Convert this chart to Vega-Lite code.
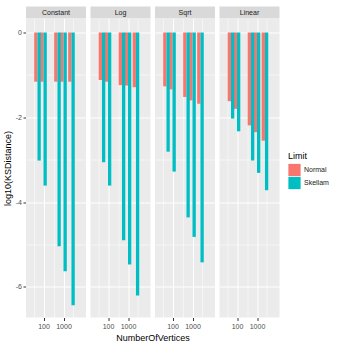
{
  "$schema": "https://vega.github.io/schema/vega-lite/v6.json",
  "padding": {"left": 3, "top": 6.5, "right": 0, "bottom": 0},
  "spacing": 0,
  "datasets": {
    "strips": [
      {"Panel": "Constant"}, {"Panel": "Log"}, {"Panel": "Sqrt"}, {"Panel": "Linear"}
    ],
    "ks": [
      {"Panel": "Constant", "N": 50, "Limit": "Normal", "value": -1.16},
      {"Panel": "Constant", "N": 100, "Limit": "Normal", "value": -1.16},
      {"Panel": "Constant", "N": 500, "Limit": "Normal", "value": -1.16},
      {"Panel": "Constant", "N": 1000, "Limit": "Normal", "value": -1.16},
      {"Panel": "Constant", "N": 2500, "Limit": "Normal", "value": -1.16},
      {"Panel": "Constant", "N": 50, "Limit": "Skellam", "value": -3.02},
      {"Panel": "Constant", "N": 100, "Limit": "Skellam", "value": -3.61},
      {"Panel": "Constant", "N": 500, "Limit": "Skellam", "value": -5.04},
      {"Panel": "Constant", "N": 1000, "Limit": "Skellam", "value": -5.63},
      {"Panel": "Constant", "N": 2500, "Limit": "Skellam", "value": -6.43},
      {"Panel": "Log", "N": 50, "Limit": "Normal", "value": -1.12},
      {"Panel": "Log", "N": 100, "Limit": "Normal", "value": -1.16},
      {"Panel": "Log", "N": 500, "Limit": "Normal", "value": -1.24},
      {"Panel": "Log", "N": 1000, "Limit": "Normal", "value": -1.25},
      {"Panel": "Log", "N": 2500, "Limit": "Normal", "value": -1.29},
      {"Panel": "Log", "N": 50, "Limit": "Skellam", "value": -3.06},
      {"Panel": "Log", "N": 100, "Limit": "Skellam", "value": -3.61},
      {"Panel": "Log", "N": 500, "Limit": "Skellam", "value": -4.90},
      {"Panel": "Log", "N": 1000, "Limit": "Skellam", "value": -5.47},
      {"Panel": "Log", "N": 2500, "Limit": "Skellam", "value": -6.20},
      {"Panel": "Sqrt", "N": 50, "Limit": "Normal", "value": -1.27},
      {"Panel": "Sqrt", "N": 100, "Limit": "Normal", "value": -1.34},
      {"Panel": "Sqrt", "N": 500, "Limit": "Normal", "value": -1.52},
      {"Panel": "Sqrt", "N": 1000, "Limit": "Normal", "value": -1.60},
      {"Panel": "Sqrt", "N": 2500, "Limit": "Normal", "value": -1.68},
      {"Panel": "Sqrt", "N": 50, "Limit": "Skellam", "value": -2.81},
      {"Panel": "Sqrt", "N": 100, "Limit": "Skellam", "value": -3.28},
      {"Panel": "Sqrt", "N": 500, "Limit": "Skellam", "value": -4.36},
      {"Panel": "Sqrt", "N": 1000, "Limit": "Skellam", "value": -4.82},
      {"Panel": "Sqrt", "N": 2500, "Limit": "Skellam", "value": -5.42},
      {"Panel": "Linear", "N": 50, "Limit": "Normal", "value": -1.62},
      {"Panel": "Linear", "N": 100, "Limit": "Normal", "value": -1.80},
      {"Panel": "Linear", "N": 500, "Limit": "Normal", "value": -2.19},
      {"Panel": "Linear", "N": 1000, "Limit": "Normal", "value": -2.35},
      {"Panel": "Linear", "N": 2500, "Limit": "Normal", "value": -2.55},
      {"Panel": "Linear", "N": 50, "Limit": "Skellam", "value": -2.03},
      {"Panel": "Linear", "N": 100, "Limit": "Skellam", "value": -2.33},
      {"Panel": "Linear", "N": 500, "Limit": "Skellam", "value": -3.02},
      {"Panel": "Linear", "N": 1000, "Limit": "Skellam", "value": -3.31},
      {"Panel": "Linear", "N": 2500, "Limit": "Skellam", "value": -3.72}
    ]
  },
  "vconcat": [
    {
      "data": {"name": "strips"},
      "facet": {
        "column": {"field": "Panel", "type": "nominal", "sort": ["Constant", "Log", "Sqrt", "Linear"], "header": {"labels": false, "title": null}}
      },
      "spacing": 4.5,
      "spec": {
        "width": 60,
        "height": 12,
        "layer": [
          {"mark": {"type": "rect", "color": "#D9D9D9"}, "encoding": {}},
          {"mark": {"type": "text", "fontSize": 7, "color": "#1A1A1A", "font": "Liberation Sans"}, "encoding": {"text": {"field": "Panel", "type": "nominal"}}}
        ]
      }
    },
    {
      "data": {"name": "ks"},
      "facet": {
        "column": {"field": "Panel", "type": "nominal", "sort": ["Constant", "Log", "Sqrt", "Linear"], "header": {"labels": false, "title": "NumberOfVertices", "titleOrient": "bottom", "titleFontSize": 9, "titleFontWeight": "normal", "titleColor": "#000000", "titleFont": "Liberation Sans", "titlePadding": -6}}
      },
      "spacing": 4.5,
      "spec": {
        "width": 60,
        "height": 299,
        "view": {"fill": "#EBEBEB", "stroke": null},
        "encoding": {
          "x": {
            "field": "N", "type": "quantitative", "title": null,
            "scale": {"type": "log", "domain": [23.7, 7500], "nice": false},
            "axis": {
              "values": [31.62, 100, 316.2, 1000, 3162],
              "format": "d",
              "labelExpr": "datum.value == 100 || datum.value == 1000 ? datum.label : ''",
              "tickOpacity": {"condition": {"test": "datum.value == 100 || datum.value == 1000", "value": 1}, "value": 0},
              "gridWidth": {"condition": {"test": "datum.value == 100 || datum.value == 1000", "value": 1}, "value": 0.5},
              "labelFlush": false,
              "labelOverlap": false
            }
          },
          "y": {
            "field": "value", "type": "quantitative", "title": "log10(KSDistance)",
            "scale": {"domain": [-6.72, 0.33], "nice": false},
            "axis": {
              "values": [-6, -5, -4, -3, -2, -1, 0],
              "labelExpr": "datum.value % 2 === 0 ? '' + datum.value : ''",
              "tickOpacity": {"condition": {"test": "datum.value % 2 === 0", "value": 1}, "value": 0},
              "gridWidth": {"condition": {"test": "datum.value % 2 === 0", "value": 1}, "value": 0.5},
              "labelOverlap": false
            }
          },
          "color": {
            "field": "Limit", "type": "nominal",
            "scale": {"domain": ["Normal", "Skellam"], "range": ["#F8766D", "#00BFC4"]},
            "legend": {"orient": "none", "legendX": 262, "legendY": 145, "symbolType": "square", "symbolSize": 150, "symbolStrokeWidth": 0, "titleFontSize": 9, "labelFontSize": 7, "titleFontWeight": "normal", "titleColor": "#000000", "labelColor": "#1A1A1A", "rowPadding": 0, "titlePadding": 3, "labelOffset": 3}
          }
        },
        "layer": [
          {
            "transform": [{"filter": "datum.Limit === 'Normal'"}],
            "mark": {"type": "bar", "orient": "vertical", "width": 3.3, "xOffset": -1.65}
          },
          {
            "transform": [{"filter": "datum.Limit === 'Skellam'"}],
            "mark": {"type": "bar", "orient": "vertical", "width": 3.3, "xOffset": 1.65}
          }
        ]
      }
    }
  ],
  "config": {
    "font": "Liberation Sans",
    "view": {"stroke": null},
    "axis": {
      "domain": false,
      "labelFont": "Liberation Sans",
      "titleFont": "Liberation Sans",
      "labelFontSize": 7,
      "labelColor": "#4D4D4D",
      "tickColor": "#333333",
      "tickSize": 3,
      "labelPadding": 1.5,
      "gridColor": "#FFFFFF",
      "titleFontWeight": "normal",
      "titleFontSize": 9,
      "titleColor": "#000000",
      "titlePadding": 3
    },
    "legend": {"labelFont": "Liberation Sans", "titleFont": "Liberation Sans", "titleFontWeight": "normal"}
  }
}
